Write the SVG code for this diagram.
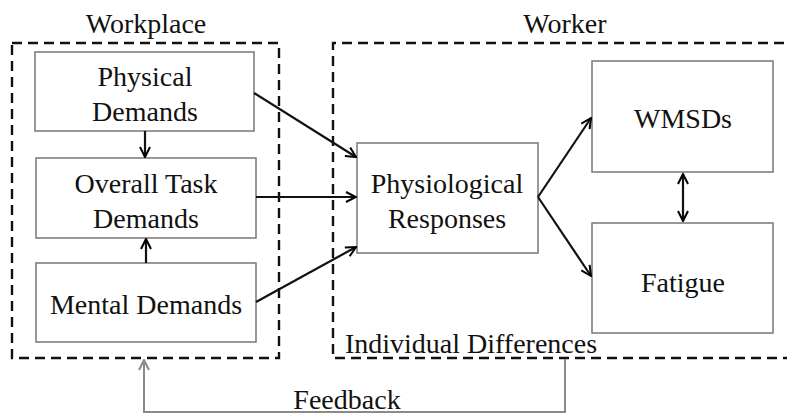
<svg xmlns="http://www.w3.org/2000/svg" width="787" height="414" viewBox="0 0 787 414">
  <defs>
    <marker id="arr" viewBox="0 0 12 12" refX="11" refY="6" markerWidth="12" markerHeight="12" markerUnits="userSpaceOnUse" orient="auto-start-reverse">
      <path d="M1,1 L11,6 L1,11" fill="none" stroke="#000" stroke-width="2"/>
    </marker>
    <marker id="arrGray" viewBox="0 0 12 12" refX="11" refY="6" markerWidth="12" markerHeight="12" markerUnits="userSpaceOnUse" orient="auto">
      <path d="M1,1 L11,6 L1,11" fill="none" stroke="#8a8a8a" stroke-width="2"/>
    </marker>
  </defs>
  <style>
    text { font-family: "Times New Roman", Times, "Liberation Serif", "Noto Serif", "DejaVu Serif", serif; font-size: 28px; fill: #111; text-anchor: middle; }
    .box { fill: #fff; stroke: #777; stroke-width: 1.5; }
    .group { fill: none; stroke: #111; stroke-width: 2.4; stroke-dasharray: 10 6; }
    .link { fill: none; stroke: #111; stroke-width: 2.2; marker-end: url(#arr); }
    .feedback { fill: none; stroke: #8a8a8a; stroke-width: 2; marker-end: url(#arrGray); }
  </style>
  <rect width="787" height="414" fill="#fff"/>

  <!-- enclosing groups -->
  <g id="workplace">
    <rect class="group" x="12" y="43" width="267" height="315"/>
    <text x="146" y="33">Workplace</text>
  </g>
  <g id="worker">
    <path class="group" d="M800,43 H333 V358 H800"/>
    <text x="565" y="33">Worker</text>
    <text x="471" y="353">Individual Differences</text>
  </g>

  <!-- nodes -->
  <g id="physical">
    <rect class="box" x="35" y="52" width="219" height="79"/>
    <text x="145" y="86">Physical</text>
    <text x="145" y="121">Demands</text>
  </g>
  <g id="overall">
    <rect class="box" x="36" y="158" width="220" height="80"/>
    <text x="146" y="193">Overall Task</text>
    <text x="146" y="228">Demands</text>
  </g>
  <g id="mental">
    <rect class="box" x="36" y="263" width="220" height="79"/>
    <text x="146" y="314">Mental Demands</text>
  </g>
  <g id="physiological">
    <rect class="box" x="357" y="143" width="181" height="110"/>
    <text x="447" y="193">Physiological</text>
    <text x="447" y="228">Responses</text>
  </g>
  <g id="wmsds">
    <rect class="box" x="592" y="61" width="181" height="111"/>
    <text x="683" y="128">WMSDs</text>
  </g>
  <g id="fatigue">
    <rect class="box" x="592" y="223" width="181" height="110"/>
    <text x="683" y="292">Fatigue</text>
  </g>

  <!-- connectors -->
  <g id="connectors">
    <line class="link" x1="145" y1="131" x2="145" y2="157"/>
    <line class="link" x1="146" y1="263" x2="146" y2="239"/>
    <line class="link" x1="254" y1="93" x2="356" y2="157"/>
    <line class="link" x1="256" y1="197" x2="356" y2="197"/>
    <line class="link" x1="256" y1="302" x2="356" y2="247"/>
    <line class="link" x1="538" y1="197" x2="591" y2="118"/>
    <line class="link" x1="538" y1="197" x2="591" y2="276"/>
    <line class="link" x1="683" y1="174" x2="683" y2="221" style="marker-start:url(#arr)"/>
    <path class="feedback" d="M565,359 V412 H144 V360"/>
    <text x="347" y="409">Feedback</text>
  </g>
</svg>
